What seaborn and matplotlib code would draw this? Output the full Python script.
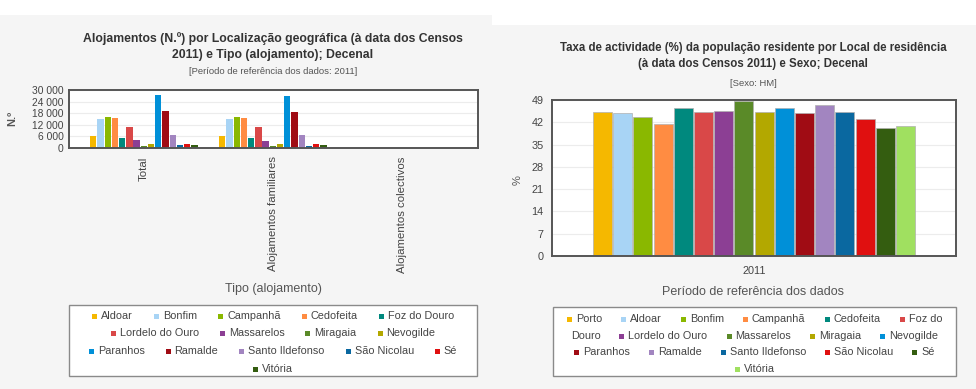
import matplotlib
matplotlib.use("Agg")
import matplotlib.pyplot as plt
import matplotlib.patches as patches
from matplotlib.ticker import FuncFormatter
import pandas as pd
import seaborn as sns

# dados
freguesias = ["Aldoar", "Bonfim", "Campanhã", "Cedofeita", "Foz do Douro",
              "Lordelo do Ouro", "Massarelos", "Miragaia", "Nevogilde", "Paranhos",
              "Ramalde", "Santo Ildefonso", "São Nicolau", "Sé", "Vitória"]
tipos = ["Total", "Alojamentos familiares", "Alojamentos colectivos"]
aloj_total = [6100, 14900, 15900, 15400, 5200, 10900, 3900, 1200, 2200,
              27300, 18900, 6900, 1300, 2200, 1800]
aloj_familiares = [6050, 14800, 15800, 15300, 5150, 10800, 3850, 1150, 2150,
                   27000, 18800, 6850, 1250, 2150, 1750]
aloj_colectivos = [10, 40, 30, 60, 10, 30, 20, 10, 5, 70, 40, 60, 10, 20, 20]

locais = ["Porto"] + freguesias
taxa_actividade = [45.2, 44.9, 43.6, 41.5, 46.4, 45.1, 45.4, 48.6, 45.1,
                   46.4, 45.0, 47.4, 45.1, 42.9, 40.2, 40.9]

cores = ["#f5b800", "#a8d4f5", "#8ab800", "#ff8c42", "#00897e", "#d94848",
         "#8c3f94", "#5a8a28", "#b3a800", "#0090d8", "#a00c14", "#a285c0",
         "#0a68a0", "#e01010", "#345d10", "#a0e060"]

W, H = 976, 389
BG = "#f5f5f5"
TXT = "#333333"

sns.set_theme(style="white")
plt.rcParams["font.family"] = ["Liberation Sans", "DejaVu Sans"]

fig = plt.figure(figsize=(W / 100, H / 100), dpi=100, facecolor=BG)


def fx(x):
    return x / W


def fy(y):
    return 1 - y / H


def px_axes(l, t, r, b):
    return fig.add_axes([fx(l), fy(b), (r - l) / W, (b - t) / H])


# faixas brancas no topo
fig.add_artist(patches.Rectangle((0, fy(15)), 1, 15 / H, transform=fig.transFigure,
                                 facecolor="white", edgecolor="none", zorder=0))
fig.add_artist(patches.Rectangle((fx(492), fy(25)), 1 - fx(492), 25 / H,
                                 transform=fig.transFigure, facecolor="white",
                                 edgecolor="none", zorder=0))


def style_axes(ax):
    ax.set_facecolor("white")
    for s in ax.spines.values():
        s.set_color("#555555")
        s.set_linewidth(1.4)
    ax.grid(axis="y", color="#ececec", linewidth=0.8)
    ax.set_axisbelow(True)
    ax.tick_params(length=0, labelsize=7.5, colors="#444444")
    ax.set_xlabel("")
    ax.set_ylabel("")


# ---------- gráfico da esquerda ----------
df_aloj = pd.DataFrame({
    "tipo": [t for t in tipos for _ in freguesias],
    "freguesia": freguesias * 3,
    "valor": aloj_total + aloj_familiares + aloj_colectivos,
})
ax1 = px_axes(69, 90, 478, 148)
sns.barplot(data=df_aloj, x="tipo", y="valor", hue="freguesia", order=tipos,
            hue_order=freguesias, palette=cores[:15], saturation=1, width=0.84,
            gap=0.12, edgecolor="none", legend=False, ax=ax1)
style_axes(ax1)
ax1.set_ylim(0, 30000)
ax1.set_yticks([0, 6000, 12000, 18000, 24000, 30000])
ax1.yaxis.set_major_formatter(FuncFormatter(lambda v, p: f"{int(v):,}".replace(",", " ")))
ax1.set_xlim(-0.58, 2.59)
ax1.set_xticks(range(3))
ax1.set_xticklabels(tipos, rotation=90, va="top", fontsize=8.2)
ax1.tick_params(axis="y", pad=4, labelsize=7.4)
ax1.tick_params(axis="x", pad=6)

fig.text(fx(273), fy(39), "Alojamentos (N.º) por Localização geográfica (à data dos Censos",
         ha="center", va="center", fontsize=8.8, fontweight="bold", color=TXT)
fig.text(fx(273), fy(55), "2011) e Tipo (alojamento); Decenal",
         ha="center", va="center", fontsize=8.8, fontweight="bold", color=TXT)
fig.text(fx(273), fy(71), "[Período de referência dos dados: 2011]",
         ha="center", va="center", fontsize=6.8, color="#555555")
fig.text(fx(12), fy(118), "N.º", rotation=90, ha="center", va="center",
         fontsize=8, fontweight="bold", color="#555555")
fig.text(fx(273), fy(289), "Tipo (alojamento)", ha="center", va="center",
         fontsize=9, color="#555555")

# ---------- gráfico da direita ----------
df_taxa = pd.DataFrame({"ano": ["2011"] * len(locais), "local": locais,
                        "taxa": taxa_actividade})
ax2 = px_axes(552, 100, 956, 256)
sns.barplot(data=df_taxa, x="ano", y="taxa", hue="local", hue_order=locais,
            palette=cores, saturation=1, width=0.8, gap=0.06, edgecolor="#b0b0b0",
            linewidth=0.5, legend=False, ax=ax2)
style_axes(ax2)
ax2.set_ylim(0, 49)
ax2.set_yticks(range(0, 50, 7))
ax2.set_xlim(-0.5, 0.5)
ax2.tick_params(axis="x", pad=7, labelsize=7.8)
ax2.tick_params(axis="y", pad=6, labelsize=7.8)

fig.text(fx(753), fy(48), "Taxa de actividade (%) da população residente por Local de residência",
         ha="center", va="center", fontsize=8.3, fontweight="bold", color=TXT)
fig.text(fx(753), fy(64), "(à data dos Censos 2011) e Sexo; Decenal",
         ha="center", va="center", fontsize=8.3, fontweight="bold", color=TXT)
fig.text(fx(753), fy(83), "[Sexo: HM]", ha="center", va="center",
         fontsize=6.8, color="#555555")
fig.text(fx(518), fy(180), "%", rotation=90, ha="center", va="center",
         fontsize=8, color="#555555")
fig.text(fx(753), fy(292), "Período de referência dos dados", ha="center",
         va="center", fontsize=9, color="#555555")

# ---------- legendas (layout em linhas, como no original) ----------
renderer = fig.canvas.get_renderer()


def flow_legend(box, rows, row_ys, fontsize=7.8, gap=21, msize=5, mgap=4):
    l, t, r, b = box
    fig.add_artist(patches.Rectangle((fx(l), fy(b)), (r - l) / W, (b - t) / H,
                                     transform=fig.transFigure, facecolor="white",
                                     edgecolor="#8a8a8a", linewidth=1.0, zorder=1))
    cx = (l + r) / 2
    for row, y in zip(rows, row_ys):
        texts, widths = [], []
        for color, label in row:
            tx = fig.text(0, 0, label, fontsize=fontsize, color="#444444",
                          ha="left", va="center", zorder=3)
            tw = tx.get_window_extent(renderer).width
            texts.append(tx)
            widths.append(tw + (msize + mgap if color else 0))
        total = sum(widths) + gap * (len(row) - 1)
        x = cx - total / 2
        for (color, label), tx, w in zip(row, texts, widths):
            if color:
                fig.add_artist(patches.Rectangle((fx(x), fy(y + msize / 2)), msize / W,
                                                 msize / H, transform=fig.transFigure,
                                                 facecolor=color, edgecolor="none",
                                                 zorder=3))
                tx.set_position((fx(x + msize + mgap), fy(y)))
            else:
                tx.set_position((fx(x), fy(y)))
            x += w + gap


cor_esq = dict(zip(freguesias, cores[:15]))
linhas_esq = [freguesias[0:5], freguesias[5:9], freguesias[9:14], freguesias[14:]]
flow_legend((69, 305, 477, 376),
            [[(cor_esq[n], n) for n in linha] for linha in linhas_esq],
            [316, 333, 351, 369])

cor_dir = dict(zip(locais, cores))
rows_dir = [
    [(cor_dir[n], n) for n in ["Porto", "Aldoar", "Bonfim", "Campanhã", "Cedofeita"]]
    + [(cor_dir["Foz do Douro"], "Foz do")],
    [(None, "Douro")] + [(cor_dir[n], n) for n in
                         ["Lordelo do Ouro", "Massarelos", "Miragaia", "Nevogilde"]],
    [(cor_dir[n], n) for n in ["Paranhos", "Ramalde", "Santo Ildefonso",
                               "São Nicolau", "Sé"]],
    [(cor_dir["Vitória"], "Vitória")],
]
flow_legend((553, 307, 956, 376), rows_dir, [319, 336, 352, 369], gap=19)

fig.savefig("out.png", dpi=100, facecolor=BG)
